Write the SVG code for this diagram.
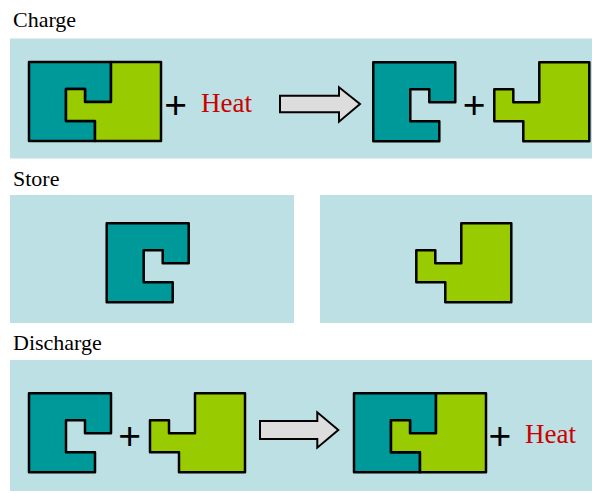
<svg xmlns="http://www.w3.org/2000/svg" width="592" height="493" viewBox="0 0 592 493">
<style>
.panel{fill:#bce0e3}
.lbl{font-family:"Liberation Serif","Times New Roman",serif;font-size:22px;fill:#000}
.heat{font-family:"Liberation Serif","Times New Roman",serif;font-size:27px;fill:#cc0000}
.plus{font-family:"Liberation Sans",Arial,sans-serif;font-size:39px;fill:#000;text-anchor:middle}
.teal{fill:#009999;stroke:#000;stroke-width:2.5;stroke-linejoin:round}
.green{fill:#99cc00;stroke:#000;stroke-width:2.5;stroke-linejoin:round}
.arrow{fill:#dddddd;stroke:#000;stroke-width:2;stroke-linejoin:miter}
</style>
<defs>
<path id="cpiece" d="M0,0 H82 V40 H56 V27 H37 V59 H66 V79 H0 Z"/>
<path id="gpiece" d="M82,0 H132 V79 H66 V59 H37 V27 H56 V40 H82 Z"/>
</defs>
<g id="panels">
<rect class="panel" x="10" y="38.5" width="582" height="120"/>
<rect class="panel" x="10" y="195" width="284" height="128"/>
<rect class="panel" x="320" y="195" width="272" height="128"/>
<rect class="panel" x="10" y="360" width="582" height="131"/>
</g>
<g id="labels">
<text class="lbl" x="13" y="27">Charge</text>
<text class="lbl" x="13" y="185.5">Store</text>
<text class="lbl" x="13" y="350">Discharge</text>
</g>
<g id="charge">
<g id="charge-combined" transform="translate(29,62)">
<use href="#cpiece" class="teal"/>
<use href="#gpiece" class="green"/>
</g>
<text class="plus" x="175.7" y="118">+</text>
<text class="heat" x="201" y="111.5">Heat</text>
<g id="charge-teal" transform="translate(373.3,62.3)"><use href="#cpiece" class="teal"/></g>
<text class="plus" x="474.2" y="118">+</text>
<g id="charge-green" transform="translate(457.3,62.3)"><use href="#gpiece" class="green"/></g>
</g>
<g id="store">
<g id="store-teal" transform="translate(106.7,223.3)"><use href="#cpiece" class="teal"/></g>
<g id="store-green" transform="translate(379.3,223.3)"><use href="#gpiece" class="green"/></g>
</g>
<g id="discharge">
<g id="discharge-teal" transform="translate(29,393.3)"><use href="#cpiece" class="teal"/></g>
<text class="plus" x="129.7" y="449">+</text>
<g id="discharge-green" transform="translate(113,393.3)"><use href="#gpiece" class="green"/></g>
<g id="discharge-combined" transform="translate(354,393.3)">
<use href="#cpiece" class="teal"/>
<use href="#gpiece" class="green"/>
</g>
<text class="plus" x="500" y="449">+</text>
<text class="heat" x="525" y="442.7">Heat</text>
</g>
<g id="connectors">
<path class="arrow" d="M280,95.7 H339 V87.3 L360,104 L339,121.7 V112.3 H280 Z"/>
<path class="arrow" d="M260,421 H317.3 V412.3 L338.3,430 L317.3,447.7 V439 H260 Z"/>
</g>
</svg>
